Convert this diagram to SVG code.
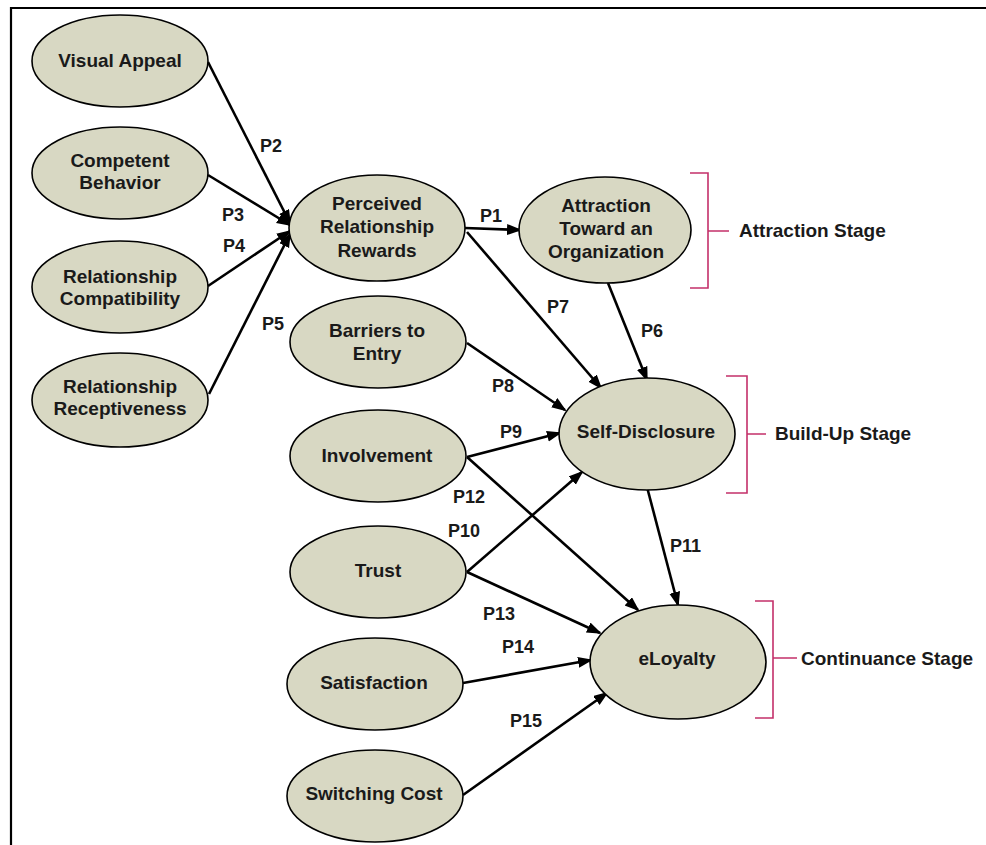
<svg xmlns="http://www.w3.org/2000/svg" width="986" height="845" viewBox="0 0 986 845">
<defs>
<marker id="arr" markerUnits="userSpaceOnUse" markerWidth="16" markerHeight="12" refX="13" refY="5.5" orient="auto">
<path d="M0,0 L15,5.5 L0,11 z" fill="#000"/>
</marker>
<style>
.node ellipse{fill:#d8d8c3;stroke:#000;stroke-width:1.6}
.node text{font-family:"Liberation Sans",Arial,sans-serif;font-weight:bold;font-size:19px;fill:#1a1a1a;text-anchor:middle}
.conn line{stroke:#000;stroke-width:2.6;marker-end:url(#arr)}
.lbl{font-family:"Liberation Sans",Arial,sans-serif;font-weight:bold;font-size:18px;fill:#1a1a1a}
.brk{fill:none;stroke:#c4306a;stroke-width:1.6}
.stage{font-family:"Liberation Sans",Arial,sans-serif;font-weight:bold;font-size:19px;fill:#1a1a1a}
</style>
</defs>
<rect width="986" height="845" fill="#fff"/>
<path d="M11,845 L11,8 L986,8" fill="none" stroke="#000" stroke-width="2.2"/>

<g id="connectors" class="conn">
<line x1="208" y1="62" x2="290" y2="223"/>
<line x1="208" y1="175" x2="290" y2="225"/>
<line x1="208" y1="286" x2="290" y2="231"/>
<line x1="209" y1="394" x2="290" y2="234"/>
<line x1="465" y1="228" x2="520" y2="230"/>
<line x1="467" y1="232" x2="601" y2="388"/>
<line x1="608" y1="283" x2="647" y2="380"/>
<line x1="467" y1="343" x2="565" y2="410"/>
<line x1="467" y1="457" x2="560" y2="433"/>
<line x1="467" y1="457" x2="638" y2="610"/>
<line x1="467" y1="572" x2="582" y2="472"/>
<line x1="467" y1="572" x2="600" y2="633"/>
<line x1="647" y1="487" x2="678" y2="605"/>
<line x1="463" y1="683" x2="591" y2="660"/>
<line x1="463" y1="795" x2="607" y2="693"/>
</g>

<g id="connector-labels">
<text class="lbl" x="480" y="222">P1</text>
<text class="lbl" x="260" y="152">P2</text>
<text class="lbl" x="222" y="221">P3</text>
<text class="lbl" x="223" y="252">P4</text>
<text class="lbl" x="262" y="330">P5</text>
<text class="lbl" x="641" y="337">P6</text>
<text class="lbl" x="547" y="313">P7</text>
<text class="lbl" x="492" y="392">P8</text>
<text class="lbl" x="500" y="438">P9</text>
<text class="lbl" x="448" y="537">P10</text>
<text class="lbl" x="670" y="552">P11</text>
<text class="lbl" x="453" y="503">P12</text>
<text class="lbl" x="483" y="620">P13</text>
<text class="lbl" x="502" y="653">P14</text>
<text class="lbl" x="510" y="727">P15</text>
</g>

<g id="visual-appeal" class="node"><ellipse cx="120" cy="61" rx="88" ry="46"/><text x="120" y="67">Visual Appeal</text></g>
<g id="competent-behavior" class="node"><ellipse cx="120" cy="173" rx="88" ry="46"/><text x="120" y="167">Competent</text><text x="120" y="189">Behavior</text></g>
<g id="relationship-compatibility" class="node"><ellipse cx="120" cy="287" rx="88" ry="46"/><text x="120" y="283">Relationship</text><text x="120" y="305">Compatibility</text></g>
<g id="relationship-receptiveness" class="node"><ellipse cx="120" cy="400" rx="88" ry="47"/><text x="120" y="393">Relationship</text><text x="120" y="415">Receptiveness</text></g>
<g id="perceived-relationship-rewards" class="node"><ellipse cx="377" cy="228" rx="88" ry="53"/><text x="377" y="210">Perceived</text><text x="377" y="233">Relationship</text><text x="377" y="257">Rewards</text></g>
<g id="attraction" class="node"><ellipse cx="605" cy="230" rx="86" ry="53"/><text x="606" y="212">Attraction</text><text x="606" y="235">Toward an</text><text x="606" y="258">Organization</text></g>
<g id="barriers-to-entry" class="node"><ellipse cx="378" cy="342" rx="88" ry="46"/><text x="377" y="337">Barriers to</text><text x="377" y="360">Entry</text></g>
<g id="involvement" class="node"><ellipse cx="378" cy="456" rx="88" ry="46"/><text x="377" y="462">Involvement</text></g>
<g id="trust" class="node"><ellipse cx="378" cy="572" rx="88" ry="46"/><text x="378" y="577">Trust</text></g>
<g id="satisfaction" class="node"><ellipse cx="375" cy="684" rx="88" ry="46"/><text x="374" y="689">Satisfaction</text></g>
<g id="switching-cost" class="node"><ellipse cx="375" cy="796" rx="88" ry="46"/><text x="374" y="800">Switching Cost</text></g>
<g id="self-disclosure" class="node"><ellipse cx="647" cy="434" rx="88" ry="56"/><text x="646" y="438">Self-Disclosure</text></g>
<g id="eloyalty" class="node"><ellipse cx="678" cy="662" rx="88" ry="57"/><text x="677" y="665">eLoyalty</text></g>

<g id="attraction-stage">
<path class="brk" d="M690,173 H708 V288 H690 M708,231 H729"/>
<text class="stage" x="739" y="237">Attraction Stage</text>
</g>
<g id="build-up-stage">
<path class="brk" d="M726,376 H747 V493 H726 M747,434 H766"/>
<text class="stage" x="775" y="440">Build-Up Stage</text>
</g>
<g id="continuance-stage">
<path class="brk" d="M755,601 H773 V718 H755 M773,658 H797"/>
<text class="stage" x="801" y="665">Continuance Stage</text>
</g>
</svg>
